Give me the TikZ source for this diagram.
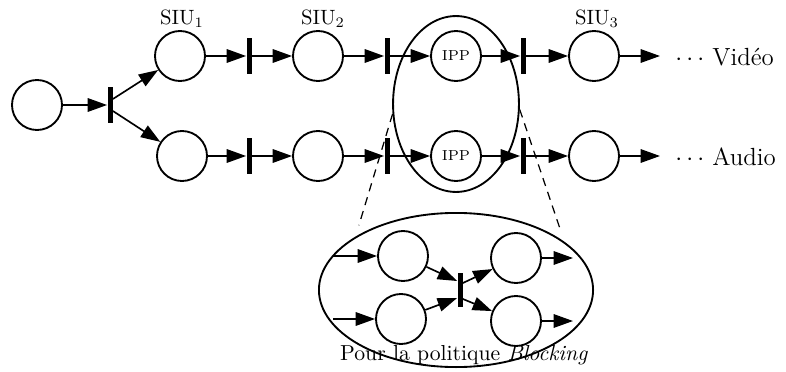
\documentclass[tikz,border=0pt]{standalone}
\usepackage{tikz}
\usetikzlibrary{shapes, arrows.meta, positioning, calc}

\tikzset{
  place/.style={draw, circle, line width=0.9pt, minimum size=0.85cm, inner sep=0pt},
  trans/.style={fill=black, rectangle, minimum width=0.085cm, minimum height=0.6cm, inner sep=0pt},
  arc/.style={line width=0.8pt, -{Triangle[length=0.33cm, width=0.23cm]}},
  lbl/.style={font=\normalsize},
  zoomline/.style={line width=0.6pt, dash pattern=on 4pt off 3pt, shorten >=0.2cm},
}

\begin{document}
\begin{tikzpicture}[x=0.017cm, y=-0.017cm]
  \useasboundingbox (0,0) rectangle (786,371);

  % Start place and fork
  \node[place] (p0) at (37,105) {};
  \node[trans] (t1) at (110,105) {};
  \draw[arc] (p0) -- (t1);

  % Video row
  \node[place] (v1) at (180,56) {};
  \node[trans] (tv2) at (249,56) {};
  \node[place] (v2) at (318,56) {};
  \node[trans] (tv3) at (387,56) {};
  \node[place, font=\scriptsize] (ipv) at (456,56) {IPP};
  \node[trans] (tv4) at (523,56) {};
  \node[place] (v3) at (594,56) {};
  \coordinate (vout) at (660,56);
  \node[anchor=west, font=\large] (vtxt) at (668,57) {$\cdots$\ Vidéo};

  % Audio row
  \node[place] (a1) at (182,156) {};
  \node[trans] (ta2) at (249,156) {};
  \node[place] (a2) at (318,156) {};
  \node[trans] (ta3) at (387,156) {};
  \node[place, font=\scriptsize] (ipa) at (456,156) {IPP};
  \node[trans] (ta4) at (523,156) {};
  \node[place] (a3) at (594,156) {};
  \coordinate (aout) at (660,156);
  \node[anchor=west, font=\large] (atxt) at (668,157) {$\cdots$\ Audio};

  % Labels
  \node[lbl] (l1) at (182,19) {SIU$_1$};
  \node[lbl] (l2) at (323,19) {SIU$_2$};
  \node[lbl] (l3) at (597,19) {SIU$_3$};

  % Arcs
  \draw[arc] ($(t1.east)+(0,-6)$) -- (v1);
  \draw[arc] ($(t1.east)+(0,6)$) -- (a1);
  \draw[arc] (v1) -- (tv2);
  \draw[arc] (tv2) -- (v2);
  \draw[arc] (v2) -- (tv3);
  \draw[arc] (tv3) -- (ipv);
  \draw[arc] (ipv) -- (tv4);
  \draw[arc] (tv4) -- (v3);
  \draw[arc] (v3) -- (vout);
  \draw[arc] (a1) -- (ta2);
  \draw[arc] (ta2) -- (a2);
  \draw[arc] (a2) -- (ta3);
  \draw[arc] (ta3) -- (ipa);
  \draw[arc] (ipa) -- (ta4);
  \draw[arc] (ta4) -- (a3);
  \draw[arc] (a3) -- (aout);

  % Zoomed part
  \node[draw, ellipse, line width=0.9pt, minimum width=2.14cm, minimum height=2.99cm, inner sep=0pt] (grp) at (456,104) {};
  \node[draw, ellipse, line width=0.9pt, minimum width=4.66cm, minimum height=2.62cm, inner sep=0pt] (detail) at (456,290) {};
  \draw[zoomline] (grp.189) -- (detail.152);
  \draw[zoomline] (grp.-5) -- (detail.24);

  % Blocking policy
  \node[place] (d1) at (403,256) {};
  \node[place] (d2) at (401,319) {};
  \node[place] (d3) at (516,258) {};
  \node[place] (d4) at (516,321) {};
  \node[trans, minimum height=0.58cm] (td) at (460,290) {};
  \coordinate (din1) at (333,256);
  \coordinate (din2) at (333,319);
  \coordinate (dout1) at (573,258);
  \coordinate (dout2) at (573,321);
  \draw[arc] (din1) -- (d1);
  \draw[arc] (din2) -- (d2);
  \draw[arc] (d1) -- ($(td.west)+(0,-9)$);
  \draw[arc] (d2) -- ($(td.west)+(0,8)$);
  \draw[arc] ($(td.east)+(0,-7)$) -- (d3);
  \draw[arc] ($(td.east)+(0,9)$) -- (d4);
  \draw[arc] (d3) -- (dout1);
  \draw[arc] (d4) -- (dout2);
  \node[font=\fontsize{10.5}{12}\selectfont] (cap) at (464,355) {Pour la politique \textit{Blocking}};
\end{tikzpicture}
\end{document}
